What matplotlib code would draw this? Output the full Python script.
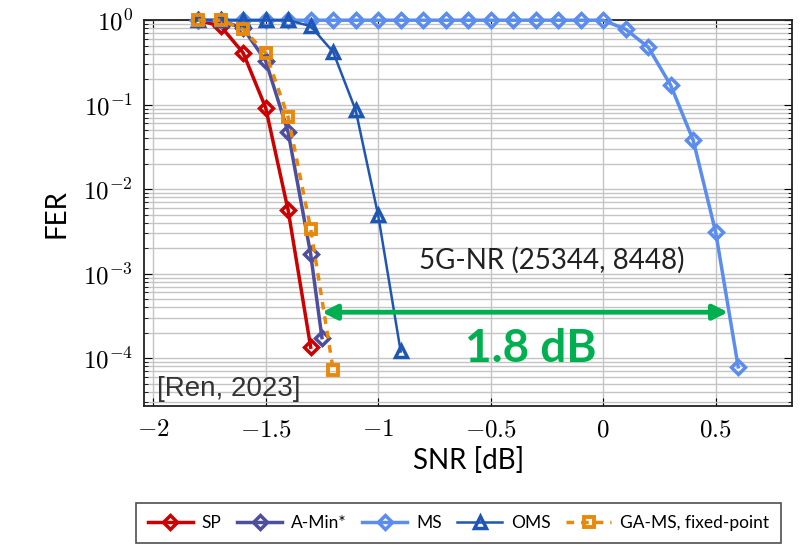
import matplotlib
matplotlib.use("Agg")
import matplotlib.pyplot as plt
from matplotlib.ticker import LogLocator, FixedLocator, FuncFormatter, NullFormatter
import math

plt.rcParams['mathtext.fontset'] = 'cm'

# ---- data ----
snr_sp = [-1.8, -1.7, -1.6, -1.5, -1.4, -1.3]
fer_sp = [1.0, 0.85, 0.41, 0.092, 5.6e-3, 1.35e-4]

snr_amin = [-1.8, -1.7, -1.6, -1.5, -1.4, -1.3, -1.25]
fer_amin = [1.0, 1.0, 0.80, 0.33, 0.047, 1.7e-3, 1.75e-4]

snr_ms = [-1.8, -1.7, -1.6, -1.5, -1.4, -1.3, -1.2, -1.1, -1.0, -0.9,
          -0.8, -0.7, -0.6, -0.5, -0.4, -0.3, -0.2, -0.1, 0.0,
          0.1, 0.2, 0.3, 0.4, 0.5, 0.6]
fer_ms = [1.0] * 19 + [0.78, 0.48, 0.17, 0.038, 3.1e-3, 7.9e-5]

snr_oms = [-1.8, -1.7, -1.6, -1.5, -1.4, -1.3, -1.2, -1.1, -1.0, -0.9]
fer_oms = [1.0, 1.0, 1.0, 1.0, 1.0, 0.85, 0.42, 0.086, 4.9e-3, 1.2e-4]

snr_ga = [-1.8, -1.7, -1.6, -1.5, -1.4, -1.3, -1.2]
fer_ga = [1.0, 1.0, 0.78, 0.41, 0.071, 3.4e-3, 7.3e-5]

x_ticks = [-2, -1.5, -1, -0.5, 0, 0.5]
x_tick_labels = [r'$-2$', r'$-1.5$', r'$-1$', r'$-0.5$', r'$0$', r'$0.5$']

c_sp = '#CC0000'
c_amin = '#4E4E9E'
c_ms = '#5B8DEF'
c_oms = '#1E56B4'
c_ga = '#E8890C'
c_green = '#00B050'

fig = plt.figure(figsize=(8.1, 5.46), dpi=100)
ax = fig.add_axes([0.178, 0.256, 0.8, 0.707])

ax.plot(snr_sp, fer_sp, color=c_sp, lw=2.5, marker='D', ms=7, mfc='none', mew=2.5,
        label='SP', clip_on=False, zorder=3)
ax.plot(snr_amin, fer_amin, color=c_amin, lw=2.5, marker='D', ms=7, mfc='none', mew=2.5,
        label='A-Min*', clip_on=False, zorder=3)
ax.plot(snr_ms, fer_ms, color=c_ms, lw=2.5, marker='D', ms=7, mfc='none', mew=2.5,
        label='MS', clip_on=False, zorder=3)
ax.plot(snr_oms, fer_oms, color=c_oms, lw=1.8, marker='^', ms=9, mfc='none', mew=2.5,
        label='OMS', clip_on=False, zorder=3)
ax.plot(snr_ga, fer_ga, color=c_ga, lw=2.5, ls=(0, (2.2, 2.0)), marker='s', ms=7, mfc='none', mew=2.8,
        label='GA-MS, fixed-point', clip_on=False, zorder=4)

ax.set_yscale('log')
ax.set_xlim(-2.04, 0.84)
ax.set_ylim(2.7e-5, 1.0)

ax.yaxis.set_major_locator(LogLocator(base=10, numticks=10))
ax.yaxis.set_major_formatter(FuncFormatter(lambda v, p: r'$10^{%d}$' % round(math.log10(v))))
ax.yaxis.set_minor_locator(LogLocator(base=10, subs=range(2, 10), numticks=20))
ax.yaxis.set_minor_formatter(NullFormatter())
ax.xaxis.set_major_locator(FixedLocator(x_ticks))
ax.set_xticklabels(x_tick_labels)

ax.grid(True, which='major', axis='x', color='#C4C4C4', lw=1.0)
ax.grid(True, which='both', axis='y', color='#C4C4C4', lw=1.0)
ax.set_axisbelow(True)

ax.tick_params(which='both', direction='in', top=True, right=True, labelsize=18, pad=8)
ax.tick_params(which='major', length=6)
ax.tick_params(which='minor', length=3)
for s in ax.spines.values():
    s.set_linewidth(1.3)
    s.set_color('#222222')

ax.set_xlabel('SNR [dB]', fontsize=20, family='Lato', labelpad=4)
ax.set_ylabel('FER', fontsize=20, family='Lato', labelpad=10)

ax.annotate('', xy=(-1.25, 3.5e-4), xytext=(0.555, 3.5e-4),
            arrowprops=dict(arrowstyle='<|-|>', color=c_green, lw=3.5, mutation_scale=22,
                            shrinkA=0, shrinkB=0), zorder=5)
ax.text(-0.23, 1.45e-3, '5G-NR (25344, 8448)', fontsize=20, family='Lato',
        color='#222222', ha='center', va='center')
ax.text(-0.32, 1.3e-4, '1.8 dB', fontsize=33, family='Lato', fontweight='bold',
        color=c_green, ha='center', va='center')
ax.text(0.02, 0.012, '[Ren, 2023]', transform=ax.transAxes, fontsize=20,
        family='Liberation Sans', color='#333333', ha='left', va='bottom')

leg = fig.legend(loc='upper left', bbox_to_anchor=(127 / 810, 1 - 494 / 546), ncol=5,
                 prop={'family': 'Lato', 'size': 12.5}, frameon=True, fancybox=False,
                 edgecolor='#222222', handlelength=2.6, columnspacing=0.9, handletextpad=0.5,
                 borderpad=0.7)
leg.get_frame().set_linewidth(1.2)

fig.savefig('out.png', dpi=100)
